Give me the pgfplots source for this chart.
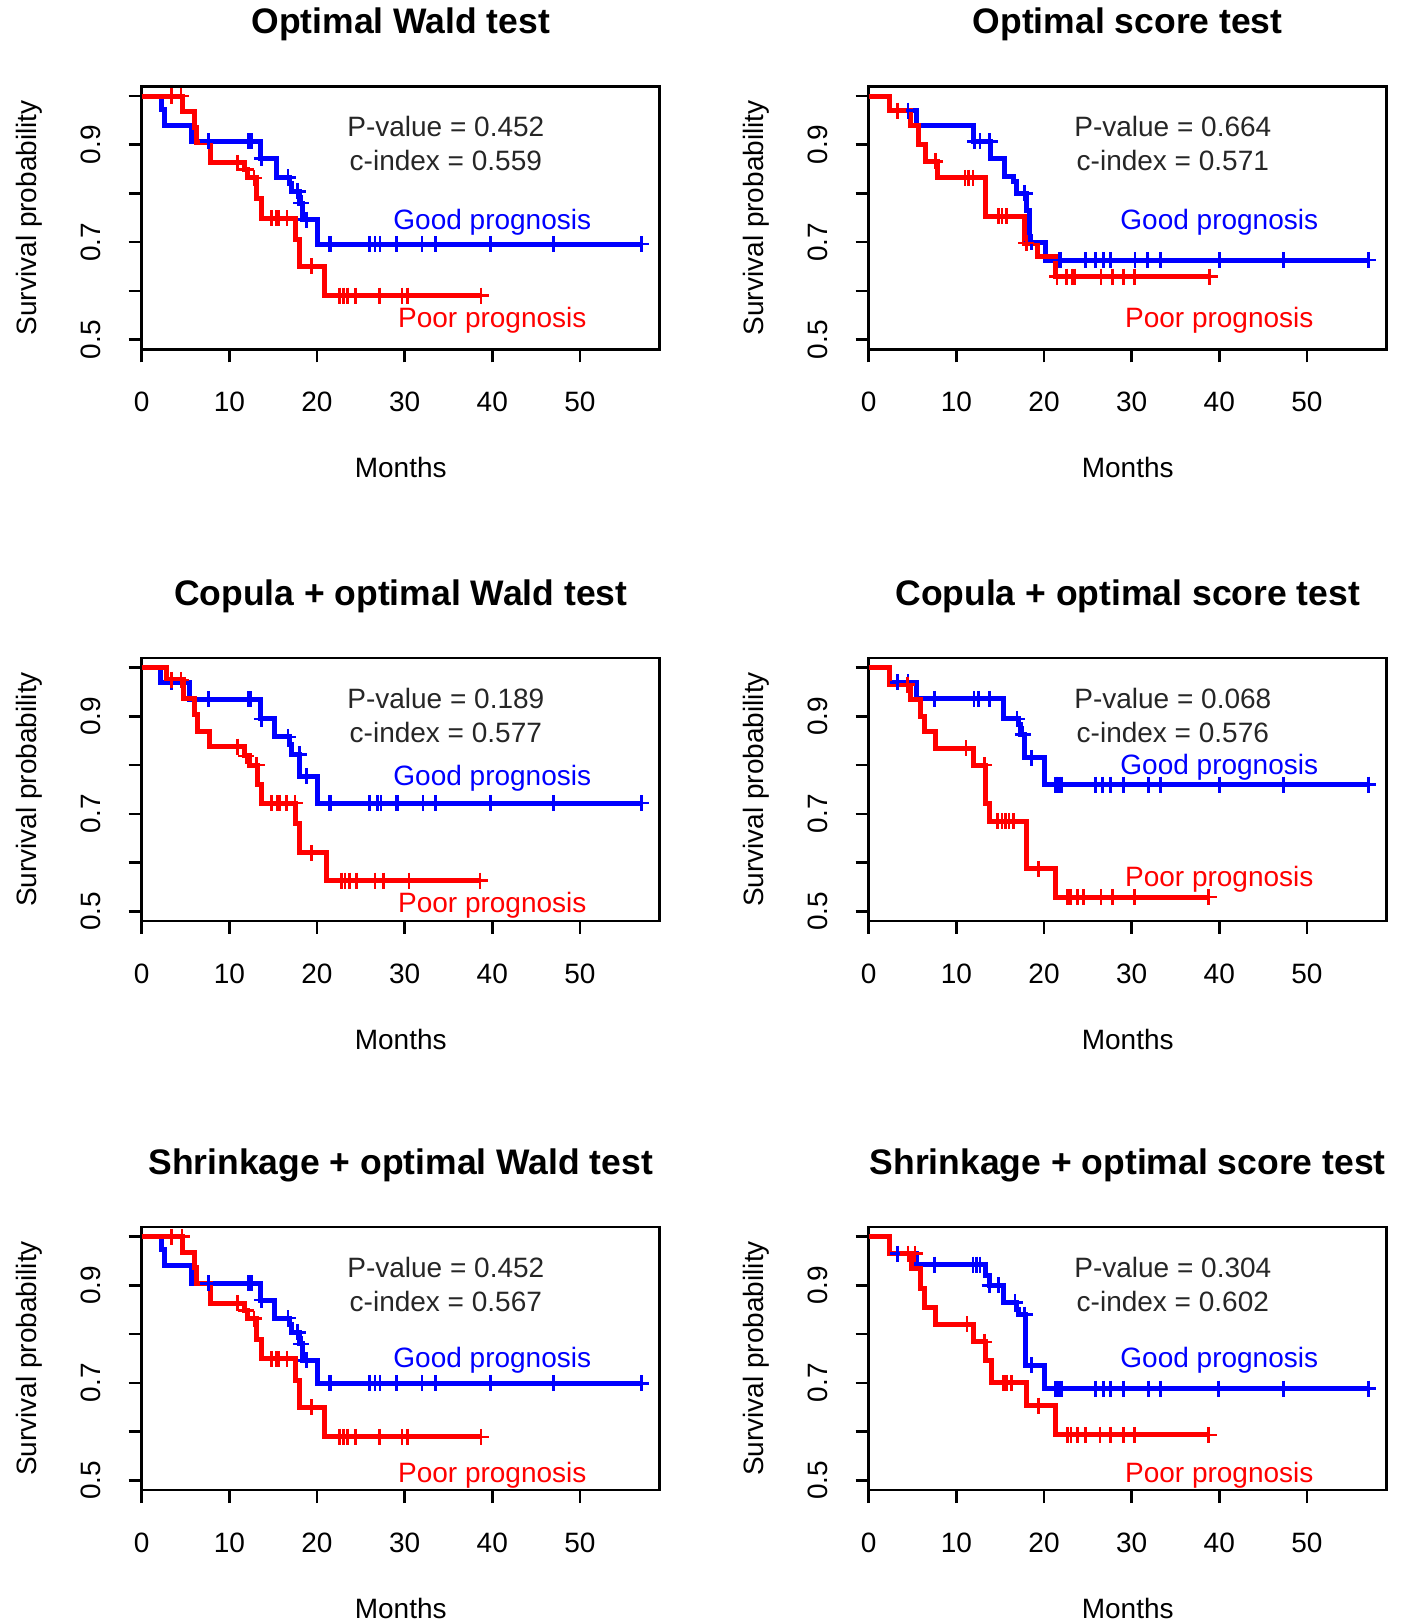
\documentclass[border=0pt]{standalone}
\usepackage{pgfplots}
\pgfplotsset{compat=1.18}
\usepackage{fontspec}
\setmainfont{Liberation Sans}
\setsansfont{Liberation Sans}
\definecolor{kmblue}{RGB}{0,0,255}
\definecolor{kmred}{RGB}{255,0,0}
\newcommand{\lbl}{\fontsize{28}{30}\selectfont}
\pgfplotsset{
  kmaxis/.style={
    scale only axis, width=518pt, height=263pt,
    xmin=0, xmax=59.1, ymin=0.48, ymax=1.02,
    axis line style={line width=2.6pt, black},
    xtick={0,10,20,30,40,50}, xticklabels={0,10,20,30,40,50},
    ytick={0.5,0.6,0.7,0.8,0.9,1.0}, yticklabels={0.5,{},0.7,{},0.9,{}},
    tick align=outside, tick pos=left,
    major tick length=13pt,
    every tick/.style={line width=2.6pt, black},
    tick label style={font=\lbl},
    xticklabel style={anchor=center, yshift=-40pt},
    yticklabel style={xshift=-37.6pt, rotate=90, anchor=center},
    xlabel={Months}, ylabel={Survival probability},
    xlabel style={font=\lbl, at={(axis description cs:0.5,0)}, anchor=center, yshift=-118pt},
    ylabel style={font=\lbl, at={(axis description cs:-0.218,0.5)}, anchor=center},
    title style={font=\fontsize{35.5}{38}\selectfont\bfseries, at={(axis description cs:0.5,1)}, anchor=center, yshift=56pt},
    clip=true,
  },
  curveB/.style={kmblue, line width=5pt, const plot, mark=none},
  curveR/.style={kmred, line width=5pt, const plot, mark=none},
  censB/.style={kmblue, only marks, mark=+, mark size=8pt, mark options={line width=2.6pt}},
  censR/.style={kmred, only marks, mark=+, mark size=8pt, mark options={line width=2.6pt}},
}
\newcommand{\stats}[4]{%
  \node[font=\lbl, text=black!85] at (axis cs:34.7,0.937) {P-value = #1};
  \node[font=\lbl, text=black!85] at (axis cs:34.7,0.867) {c-index = #2};
  \node[font=\lbl, text=kmblue] at (axis cs:40,#3) {Good prognosis};
  \node[font=\lbl, text=kmred] at (axis cs:40,#4) {Poor prognosis};
}
\begin{document}
\begin{tikzpicture}
\path[use as bounding box] (0,0) rectangle (1401pt,1623pt);

% Panel 1
\begin{axis}[kmaxis, at={(141.7pt,1273.7pt)}, anchor=south west, title={Optimal Wald test}]
\addplot[curveB] coordinates {(0,1) (2.3,0.973) (2.6,0.940) (5.7,0.907) (13.6,0.872) (15.4,0.833) (16.9,0.82) (17.1,0.804) (18.0,0.78) (18.4,0.746) (20.1,0.696) (57,0.696)};
\addplot[censB] coordinates {(7.6,0.907) (12.2,0.907) (12.5,0.907) (13.7,0.872) (16.7,0.833) (17.8,0.804) (18.2,0.78) (18.8,0.746) (21.4,0.696) (21.6,0.696) (26.0,0.696) (26.6,0.696) (27.2,0.696) (29.1,0.696) (32.0,0.696) (33.5,0.696) (39.8,0.696) (47.0,0.696) (57.0,0.696)};
\addplot[curveR] coordinates {(0,1) (4.7,0.968) (6.0,0.936) (6.3,0.904) (7.8,0.863) (11.7,0.849) (12.1,0.832) (13.1,0.79) (13.7,0.749) (17.5,0.705) (18.0,0.65) (20.9,0.59) (38.7,0.59)};
\addplot[censR] coordinates {(3.4,1) (4.5,1) (10.9,0.863) (11.9,0.849) (12.8,0.832) (14.8,0.749) (15.4,0.749) (15.6,0.749) (16.6,0.749) (19.4,0.65) (22.6,0.59) (23.0,0.59) (23.5,0.59) (24.4,0.59) (27.1,0.59) (29.7,0.59) (30.3,0.59) (38.7,0.59)};
\stats{0.452}{0.559}{0.740}{0.540}
\end{axis}

% Panel 2
\begin{axis}[kmaxis, at={(868.7pt,1273.7pt)}, anchor=south west, title={Optimal score test}]
\addplot[curveB] coordinates {(0,1) (2.4,0.97) (5.4,0.94) (11.9,0.907) (13.95,0.872) (15.5,0.835) (16.5,0.825) (16.9,0.80) (18.0,0.765) (18.3,0.70) (20.2,0.663) (57,0.663)};
\addplot[censB] coordinates {(4.5,0.97) (12.1,0.907) (12.7,0.907) (13.8,0.907) (17.8,0.80) (18.6,0.70) (21.7,0.663) (21.9,0.663) (24.7,0.663) (25.9,0.663) (26.8,0.663) (27.6,0.663) (30.4,0.663) (31.8,0.663) (33.3,0.663) (40.0,0.663) (47.3,0.663) (57.0,0.663)};
\addplot[curveR] coordinates {(0,1) (2.4,0.97) (4.8,0.94) (5.7,0.90) (6.5,0.866) (7.8,0.832) (13.3,0.753) (17.8,0.698) (19.3,0.67) (21.3,0.629) (38.9,0.629)};
\addplot[censR] coordinates {(3.3,0.97) (7.6,0.866) (11.0,0.832) (11.4,0.832) (11.9,0.832) (14.8,0.753) (15.2,0.753) (15.7,0.753) (18.0,0.698) (21.5,0.629) (22.6,0.629) (23.2,0.629) (23.5,0.629) (26.5,0.629) (27.8,0.629) (29.1,0.629) (30.3,0.629) (38.9,0.629)};
\stats{0.664}{0.571}{0.740}{0.540}
\end{axis}

% Panel 3
\begin{axis}[kmaxis, at={(141.7pt,702pt)}, anchor=south west, title={Copula + optimal Wald test}]
\addplot[curveB] coordinates {(0,1) (2.2,0.97) (5.5,0.935) (13.5,0.895) (15.2,0.858) (16.9,0.843) (17.1,0.822) (18.0,0.777) (20.1,0.722) (57,0.722)};
\addplot[censB] coordinates {(3.4,0.97) (7.6,0.935) (12.2,0.935) (12.4,0.935) (13.7,0.895) (16.7,0.858) (18.0,0.822) (18.8,0.777) (21.4,0.722) (21.6,0.722) (26.0,0.722) (26.9,0.722) (27.3,0.722) (29.0,0.722) (29.2,0.722) (32.1,0.722) (33.5,0.722) (39.8,0.722) (47.0,0.722) (57.0,0.722)};
\addplot[curveR] coordinates {(0,1) (2.8,0.975) (4.8,0.937) (6.0,0.905) (6.4,0.87) (7.7,0.838) (11.75,0.819) (12.3,0.80) (13.2,0.76) (13.7,0.722) (17.6,0.68) (18.0,0.62) (21.1,0.563) (38.6,0.563)};
\addplot[censR] coordinates {(3.4,0.975) (4.5,0.975) (10.9,0.838) (11.9,0.819) (13.1,0.80) (14.8,0.722) (15.5,0.722) (15.7,0.722) (16.5,0.722) (17.5,0.722) (19.4,0.62) (22.8,0.563) (23.2,0.563) (23.7,0.563) (24.5,0.563) (26.6,0.563) (27.6,0.563) (30.5,0.563) (38.6,0.563)};
\stats{0.189}{0.577}{0.774}{0.512}
\end{axis}

% Panel 4
\begin{axis}[kmaxis, at={(868.7pt,702pt)}, anchor=south west, title={Copula + optimal score test}]
\addplot[curveB] coordinates {(0,1) (2.4,0.97) (5.5,0.936) (15.4,0.895) (17.1,0.884) (17.3,0.863) (17.8,0.815) (20.1,0.76) (57,0.76)};
\addplot[censB] coordinates {(3.3,0.97) (4.5,0.97) (7.5,0.936) (12.0,0.936) (12.5,0.936) (13.8,0.936) (16.9,0.895) (17.6,0.863) (18.6,0.815) (21.3,0.76) (21.5,0.76) (21.8,0.76) (22.0,0.76) (25.9,0.76) (26.7,0.76) (27.6,0.76) (29.1,0.76) (31.9,0.76) (33.3,0.76) (40.0,0.76) (47.3,0.76) (57.0,0.76)};
\addplot[curveR] coordinates {(0,1) (2.4,0.965) (4.8,0.935) (5.9,0.90) (6.4,0.87) (7.6,0.835) (11.9,0.80) (13.3,0.722) (13.8,0.685) (18.0,0.587) (21.3,0.529) (38.8,0.529)};
\addplot[censR] coordinates {(4.4,0.965) (11.1,0.835) (13.2,0.80) (14.7,0.685) (15.2,0.685) (15.6,0.685) (16.0,0.685) (16.5,0.685) (19.4,0.587) (22.7,0.529) (23.0,0.529) (23.8,0.529) (24.5,0.529) (26.5,0.529) (27.8,0.529) (30.3,0.529) (38.8,0.529)};
\stats{0.068}{0.576}{0.795}{0.565}
\end{axis}

% Panel 5
\begin{axis}[kmaxis, at={(141.7pt,133pt)}, anchor=south west, title={Shrinkage + optimal Wald test}]
\addplot[curveB] coordinates {(0,1) (2.3,0.973) (2.6,0.940) (5.7,0.904) (13.6,0.870) (15.2,0.833) (16.9,0.82) (17.1,0.804) (18.0,0.78) (18.4,0.746) (20.1,0.699) (57,0.699)};
\addplot[censB] coordinates {(7.6,0.904) (12.2,0.904) (12.5,0.904) (13.7,0.870) (16.7,0.833) (17.8,0.804) (18.2,0.78) (18.8,0.746) (21.4,0.699) (21.6,0.699) (26.0,0.699) (26.6,0.699) (27.2,0.699) (29.1,0.699) (32.0,0.699) (33.5,0.699) (39.8,0.699) (47.0,0.699) (57.0,0.699)};
\addplot[curveR] coordinates {(0,1) (4.7,0.968) (6.0,0.936) (6.3,0.904) (7.8,0.863) (11.7,0.849) (12.1,0.832) (13.1,0.79) (13.7,0.749) (17.5,0.705) (18.0,0.65) (20.9,0.589) (38.7,0.589)};
\addplot[censR] coordinates {(3.4,1) (4.6,1) (10.9,0.863) (11.9,0.849) (12.8,0.832) (14.8,0.749) (15.4,0.749) (15.6,0.749) (16.6,0.749) (19.4,0.65) (22.6,0.589) (23.0,0.589) (23.5,0.589) (24.4,0.589) (27.1,0.589) (29.7,0.589) (30.3,0.589) (38.7,0.589)};
\stats{0.452}{0.567}{0.746}{0.511}
\end{axis}

% Panel 6
\begin{axis}[kmaxis, at={(868.7pt,133pt)}, anchor=south west, title={Shrinkage + optimal score test}]
\addplot[curveB] coordinates {(0,1) (2.4,0.965) (5.5,0.943) (13.3,0.92) (13.8,0.90) (15.4,0.865) (16.9,0.85) (17.1,0.84) (17.9,0.736) (20.1,0.688) (57,0.688)};
\addplot[censB] coordinates {(3.3,0.965) (4.5,0.965) (7.5,0.943) (11.9,0.943) (12.3,0.943) (12.7,0.943) (13.8,0.90) (14.8,0.90) (16.7,0.865) (17.8,0.84) (18.6,0.736) (21.3,0.688) (21.5,0.688) (21.8,0.688) (22.0,0.688) (25.9,0.688) (26.8,0.688) (27.6,0.688) (29.1,0.688) (31.9,0.688) (33.3,0.688) (39.9,0.688) (47.3,0.688) (57.0,0.688)};
\addplot[curveR] coordinates {(0,1) (2.4,0.965) (4.9,0.935) (5.9,0.894) (6.4,0.855) (7.6,0.82) (11.9,0.784) (13.3,0.745) (14.0,0.70) (18.0,0.653) (21.3,0.593) (38.8,0.593)};
\addplot[censR] coordinates {(4.5,0.965) (5.3,0.965) (11.2,0.82) (13.2,0.784) (15.4,0.70) (15.7,0.70) (16.3,0.70) (19.4,0.653) (22.7,0.593) (23.1,0.593) (23.8,0.593) (24.7,0.593) (26.4,0.593) (27.6,0.593) (29.1,0.593) (30.3,0.593) (38.8,0.593)};
\stats{0.304}{0.602}{0.746}{0.511}
\end{axis}
\end{tikzpicture}
\end{document}
